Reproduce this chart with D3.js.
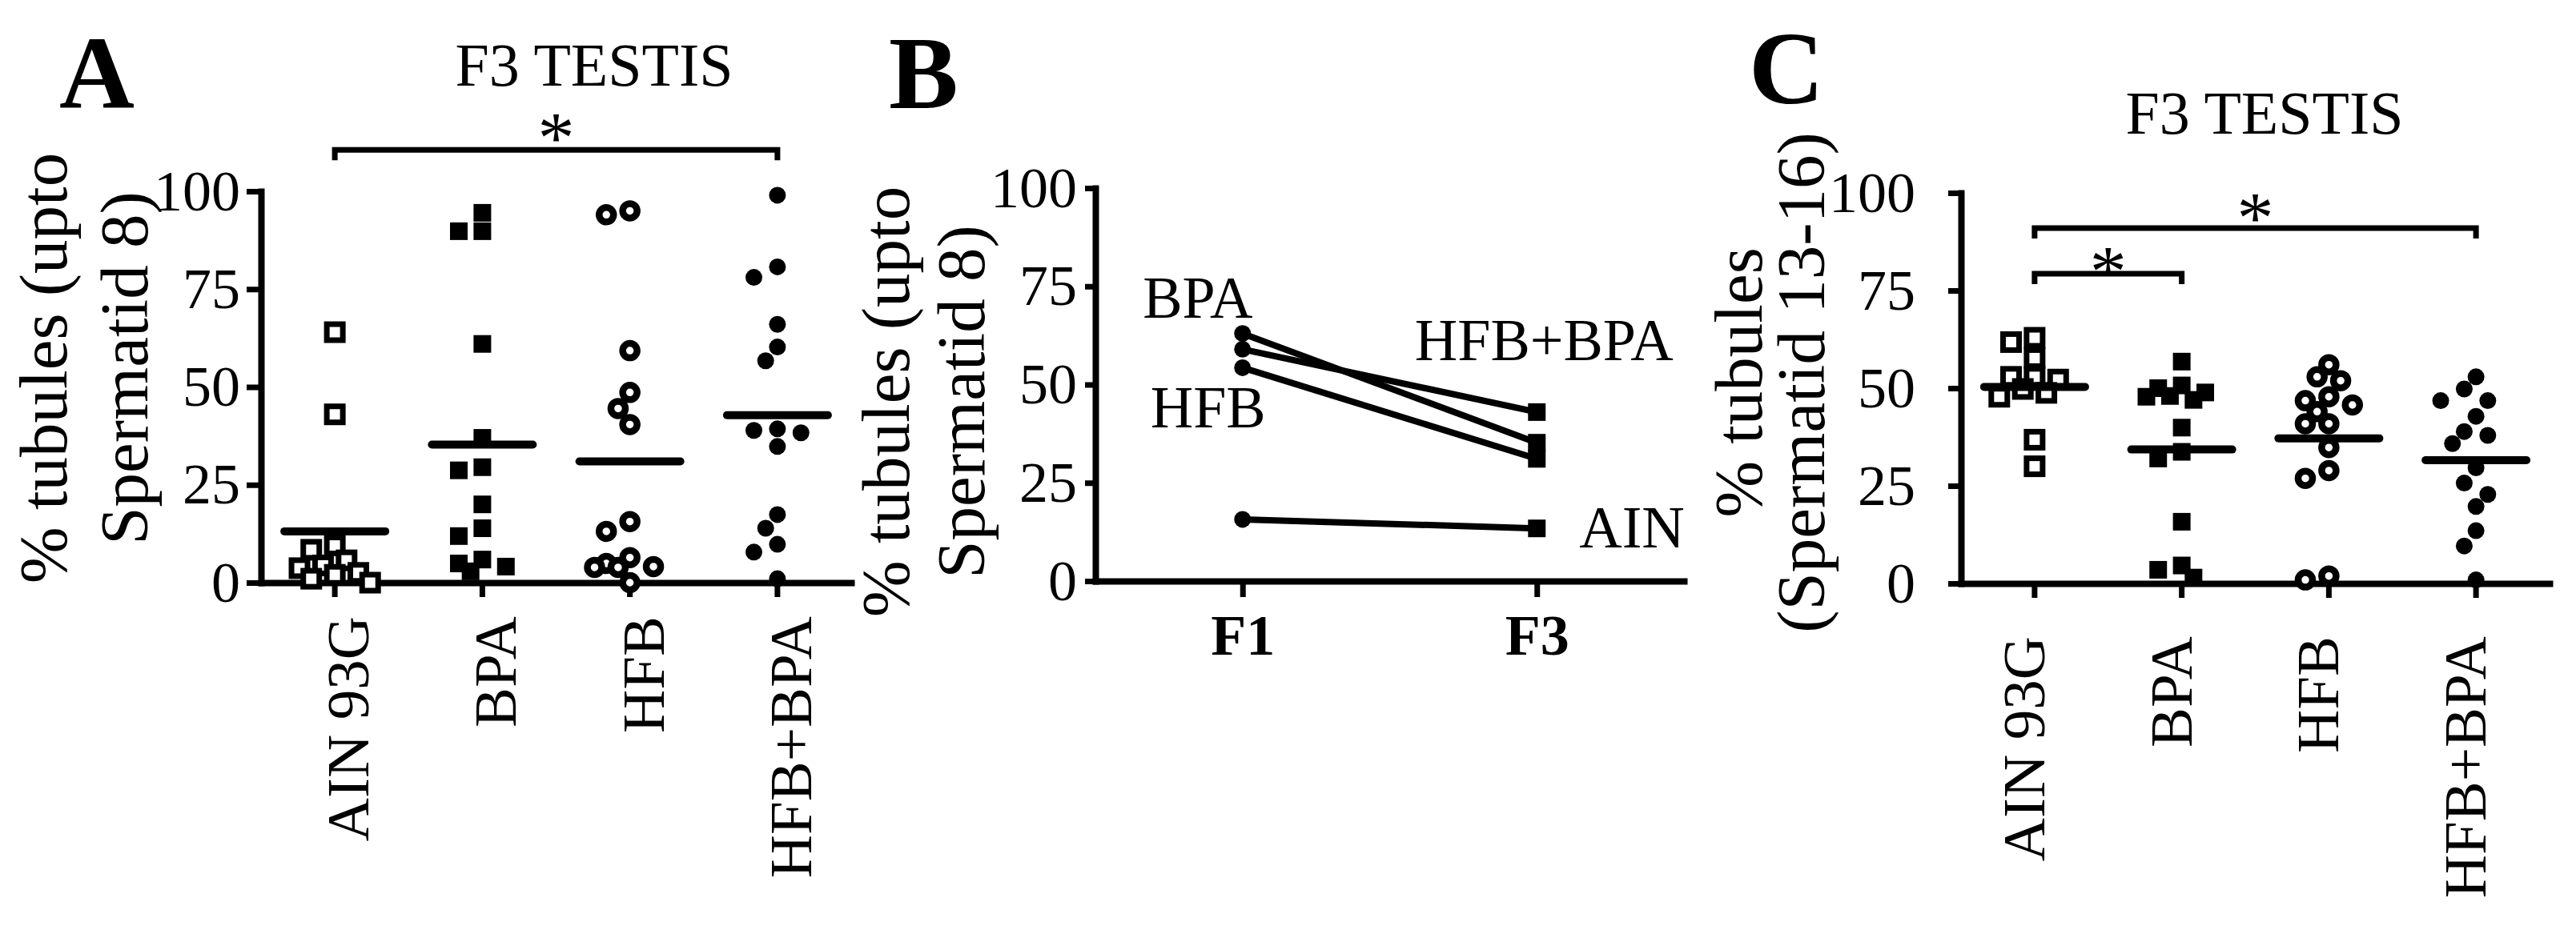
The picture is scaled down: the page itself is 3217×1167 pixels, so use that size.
<!DOCTYPE html>
<html>
<head>
<meta charset="utf-8">
<script src="https://cdn.jsdelivr.net/npm/d3@7"></script>
<style>
  body { margin: 0; background: #fff; }
  svg { display: block; }
</style>
</head>
<body>
<div id="chart"></div>
<script>
// ====== DADOS ======
const groups = ['AIN 93G', 'BPA', 'HFB', 'HFB+BPA'];
const yTicks = [0, 25, 50, 75, 100];

// A: % tubules upto spermatid 8 (F3 testis)
const aAin = [64, 43, 9.5, 8.4, 5.7, 4.4, 3.7, 2.5, 2, 1, 0];
const aBpa = [94.5, 89.8, 89.8, 61, 37, 29.5, 28.7, 20, 13.9, 11.9, 5.9, 4.9, 4.1, 2.9];
const aHfb = [95, 94, 59.3, 48.6, 44.5, 40.4, 15.6, 13.1, 6.4, 4.9, 4.1, 3.9, 3.9, 0];
const aHfbBpa = [99, 80.7, 78, 66, 60.2, 56.7, 39.3, 38.9, 38.3, 34.8, 17.4, 13.9, 9.8, 7.8, 1];

// B: group means F1 -> F3
const generations = ['F1', 'F3'];
const bSeries = ['BPA', 'HFB+BPA', 'HFB', 'AIN'];
const bF1 = [63, 59, 54.3, 15.7];
const bF3 = [35.2, 43, 31.1, 13.4];

// C: % tubules spermatid 13-16 (F3 testis)
const cAin = [62.9, 61.8, 57.7, 52.9, 52.9, 52.2, 49.8, 48.8, 47.8, 36.8, 30];
const cBpa = [56.8, 50.7, 50, 48.9, 48, 47.8, 47, 39.9, 33.7, 32, 15.8, 4.6, 3.5, 1.5];
const cHfb = [56, 52.9, 51.9, 47.8, 46.8, 45.7, 44, 40.9, 40.9, 34.8, 28.9, 26.9, 1.9, 0.9];
const cHfbBpa = [52.9, 49.8, 46.8, 46.8, 42.8, 38.9, 37.9, 35.8, 29.6, 25.7, 22.8, 19.7, 13.5, 9.6, 0.9];

// significance brackets (pairs of groups)
const aSig = [['AIN 93G', 'HFB+BPA']];
const cSig = [['AIN 93G', 'HFB+BPA'], ['AIN 93G', 'BPA']];

// ====== ESTILO ======
const FONT = '"Liberation Serif", "Times New Roman", serif';
const markers = {
  'AIN 93G': { shape: 'square', open: true },
  'BPA': { shape: 'square', open: false },
  'HFB': { shape: 'circle', open: true },
  'HFB+BPA': { shape: 'circle', open: false }
};

const svg = d3.select('#chart').append('svg')
  .attr('width', 3217)
  .attr('height', 1167)
  .style('font-family', FONT);

// ====== FUNÇÕES ======
function drawMarker(sel, shape, open) {
  if (shape === 'square') {
    const s = open ? 20 : 22;
    sel.append('rect')
      .attr('x', -s / 2).attr('y', -s / 2)
      .attr('width', s).attr('height', s)
      .attr('fill', open ? '#fff' : '#000')
      .attr('stroke', open ? '#000' : 'none')
      .attr('stroke-width', 7);
  } else {
    sel.append('circle')
      .attr('r', open ? 9 : 10.5)
      .attr('fill', open ? '#fff' : '#000')
      .attr('stroke', open ? '#000' : 'none')
      .attr('stroke-width', 8.5);
  }
}

// column scatter: pushes points sideways in half-marker steps (max 3 steps)
function swarm(values, y, step, minDist) {
  const order = values.map((v, i) => i).sort((a, b) => values[b] - values[a]);
  const slots = [0, -1, 1, -2, 2, -3, 3];
  const placed = [];
  order.forEach(i => {
    const py = y(values[i]);
    let best = null, bestGap = -1;
    for (const s of slots) {
      const dx = s * step;
      const gap = placed.length ? d3.min(placed, p => Math.hypot(p.dx - dx, p.y - py)) : Infinity;
      if (gap >= minDist) { best = dx; break; }
      if (gap > bestGap) { bestGap = gap; best = dx; }
    }
    placed.push({ value: values[i], dx: best, y: py });
  });
  return placed;
}

function styleAxis(g) {
  g.select('.domain').attr('stroke', '#000').attr('stroke-width', 8).attr('stroke-linecap', 'square');
  g.selectAll('.tick line').attr('stroke', '#000').attr('stroke-width', 7);
  g.selectAll('.tick text').attr('fill', '#000').attr('font-family', FONT);
}

function yLabel(lines, x, y) {
  lines.forEach((t, i) => {
    svg.append('text')
      .attr('transform', `translate(${x[i]},${y}) rotate(-90)`)
      .attr('text-anchor', 'middle')
      .attr('font-size', 85)
      .text(t);
  });
}

function panelLetter(t, x, y) {
  svg.append('text')
    .attr('x', x).attr('y', y)
    .attr('font-size', 130)
    .attr('font-weight', 'bold')
    .text(t);
}

function drawScatterPanel(cfg) {
  const x = d3.scaleBand().domain(groups).range([cfg.left, cfg.right]);
  const y = d3.scaleLinear().domain([0, 100]).range([cfg.bottom, cfg.top]);

  // Eixo Y
  const gy = svg.append('g')
    .attr('transform', `translate(${cfg.left},0)`)
    .call(d3.axisLeft(y).tickValues(yTicks).tickSize(cfg.tickY).tickPadding(cfg.padY).tickSizeOuter(0));
  styleAxis(gy);
  gy.selectAll('.tick text').attr('font-size', 72);

  // Eixo X com rótulos rotacionados
  const gx = svg.append('g')
    .attr('transform', `translate(0,${cfg.bottom})`)
    .call(d3.axisBottom(x).tickSize(18).tickSizeOuter(0));
  styleAxis(gx);
  gx.selectAll('.tick text')
    .attr('font-size', 75)
    .attr('text-anchor', 'end')
    .attr('transform', 'rotate(-90)')
    .attr('x', -cfg.labelGap)
    .attr('y', cfg.labelShift)
    .attr('dy', null);

  // Pontos
  cfg.data.forEach((vals, gi) => {
    const name = groups[gi];
    const cx = x(name) + x.bandwidth() / 2;
    const pts = swarm(vals, y, 14.7, 21);
    const m = markers[name];
    pts.forEach(p => {
      const g = svg.append('g').attr('transform', `translate(${cx + p.dx},${p.y})`);
      drawMarker(g, m.shape, m.open);
    });
    // Média
    const mean = d3.mean(vals);
    svg.append('line')
      .attr('x1', cx - 63).attr('x2', cx + 63)
      .attr('y1', y(mean)).attr('y2', y(mean))
      .attr('stroke', '#000').attr('stroke-width', 10)
      .attr('stroke-linecap', 'round');
  });

  // Colchetes de significância
  cfg.sig.forEach((pair, i) => {
    const x1 = x(pair[0]) + x.bandwidth() / 2;
    const x2 = x(pair[1]) + x.bandwidth() / 2;
    const by = y(cfg.sigLevels[i]);
    svg.append('path')
      .attr('d', `M${x1},${by + 13}V${by}H${x2}V${by + 13}`)
      .attr('fill', 'none').attr('stroke', '#000').attr('stroke-width', 7);
    svg.append('text')
      .attr('x', (x1 + x2) / 2).attr('y', by + cfg.starDy[i])
      .attr('text-anchor', 'middle')
      .attr('font-size', 92)
      .text('*');
  });

  // Título
  if (cfg.title) {
    svg.append('text')
      .attr('x', cfg.title.x).attr('y', cfg.title.y)
      .attr('text-anchor', 'middle')
      .attr('font-size', 76)
      .text('F3 TESTIS');
  }
}

// ====== PAINEL A ======
drawScatterPanel({
  left: 326, right: 1063, top: 239, bottom: 728,
  tickY: 18, padY: 8, labelGap: 42, labelShift: 42,
  data: [aAin, aBpa, aHfb, aHfbBpa],
  sig: aSig, sigLevels: [110.6], starDy: [16],
  title: { x: 742, y: 107 }
});
panelLetter('A', 74, 134);
yLabel(['% tubules (upto', 'Spermatid 8)'], [83, 184], 460);

// ====== PAINEL B ======
(function() {
  const x = d3.scalePoint().domain(generations).range([1368, 2103]).padding(0.5);
  const y = d3.scaleLinear().domain([0, 100]).range([726, 235]);

  const gy = svg.append('g')
    .attr('transform', 'translate(1368,0)')
    .call(d3.axisLeft(y).tickValues(yTicks).tickSize(13).tickPadding(10).tickSizeOuter(0));
  styleAxis(gy);
  gy.selectAll('.tick text').attr('font-size', 72);

  const gx = svg.append('g')
    .attr('transform', 'translate(0,726)')
    .call(d3.axisBottom(x).tickSize(20).tickPadding(21).tickSizeOuter(0));
  styleAxis(gx);
  gx.selectAll('.tick text').attr('font-size', 72).attr('font-weight', 'bold');

  const line = d3.line().x(d => x(d.gen)).y(d => y(d.value));
  const series = bSeries.map((name, i) => ({
    name: name,
    points: [{ gen: 'F1', value: bF1[i] }, { gen: 'F3', value: bF3[i] }]
  }));

  series.forEach(s => {
    svg.append('path')
      .attr('d', line(s.points))
      .attr('fill', 'none').attr('stroke', '#000').attr('stroke-width', 8);
  });
  series.forEach(s => {
    svg.append('circle')
      .attr('cx', x('F1')).attr('cy', y(s.points[0].value)).attr('r', 10.5);
    svg.append('rect')
      .attr('x', x('F3') - 11).attr('y', y(s.points[1].value) - 11)
      .attr('width', 22).attr('height', 22);
  });

  // Rótulos das séries
  const labelPos = {
    'BPA': { gen: 'F1', dx: -56, dy: -20, anchor: 'middle' },
    'HFB': { gen: 'F1', dx: -43, dy: 75, anchor: 'middle' },
    'HFB+BPA': { gen: 'F3', dx: 9, dy: -65, anchor: 'middle' },
    'AIN': { gen: 'F3', dx: 53, dy: 24, anchor: 'start' }
  };
  series.forEach(s => {
    const lp = labelPos[s.name];
    const pt = s.points.find(p => p.gen === lp.gen);
    svg.append('text')
      .attr('x', x(lp.gen) + lp.dx).attr('y', y(pt.value) + lp.dy)
      .attr('text-anchor', lp.anchor)
      .attr('font-size', 74)
      .text(s.name);
  });
})();
panelLetter('B', 1110, 135);
yLabel(['% tubules (upto', 'Spermatid 8)'], [1135, 1229], 502);

// ====== PAINEL C ======
drawScatterPanel({
  left: 2449, right: 3184, top: 241, bottom: 729,
  tickY: 16, padY: 41, labelGap: 66, labelShift: 12,
  data: [cAin, cBpa, cHfb, cHfbBpa],
  sig: cSig, sigLevels: [91, 79.3], starDy: [18, 28],
  title: { x: 2828, y: 167 }
});
panelLetter('C', 2184, 129);
yLabel(['% tubules', '(Spermatid 13-16)'], [2200, 2278], 478);
</script>
</body>
</html>
